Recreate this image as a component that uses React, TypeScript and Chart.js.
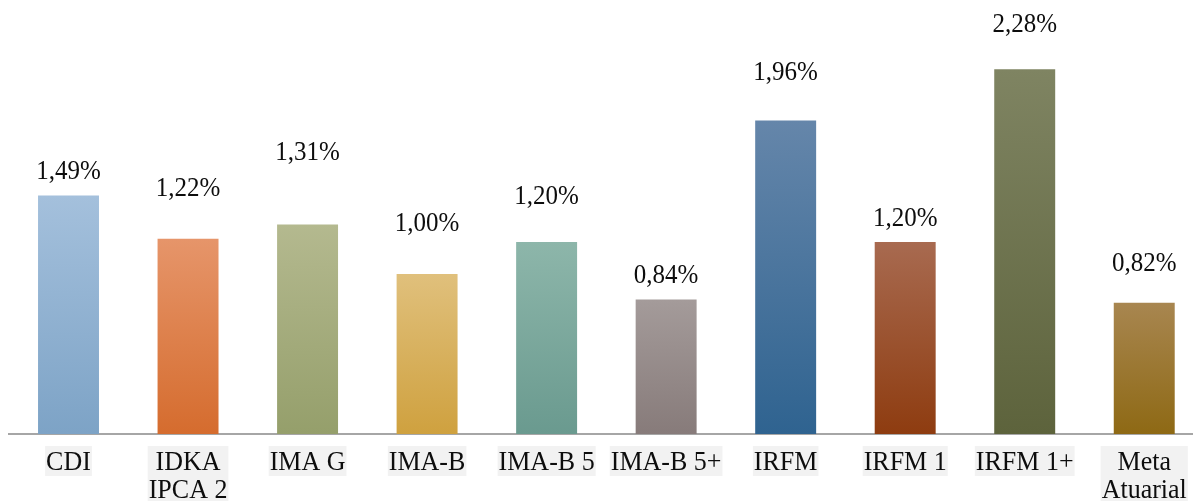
import React, { useEffect, useRef } from "react";
import { Chart, registerables } from "chart.js";

Chart.register(...registerables);

const categories: (string | string[])[] = [
  "CDI",
  ["IDKA", "IPCA 2"],
  "IMA G",
  "IMA-B",
  "IMA-B 5",
  "IMA-B 5+",
  "IRFM",
  "IRFM 1",
  "IRFM 1+",
  ["Meta", "Atuarial"],
];

const returns: number[] = [1.49, 1.22, 1.31, 1.0, 1.2, 0.84, 1.96, 1.2, 2.28, 0.82];

// styling: gradient top / bottom colours for each bar
const topColors: string[] = [
  "#a4c0dc", "#e6956a", "#b4b98f", "#e0c07c", "#8db6aa",
  "#a49b9a", "#6586aa", "#a86a50", "#7f8462", "#a88650",
];
const bottomColors: string[] = [
  "#7da3c6", "#d56c2e", "#959f6b", "#cfa13f", "#6a9a8f",
  "#877b7a", "#2f6390", "#8e3c10", "#5d633c", "#8e6914",
];

// layout: distance (px) from bar top to value label baseline
const labelLift: number[] = [17, 43, 64, 43, 38, 17, 40, 16, 37, 32];

const FONT = "'Liberation Serif', 'Times New Roman', serif";
const TEXT = "#0d0d0d";

const valueLabels = {
  id: "valueLabels",
  afterDatasetsDraw(chart: any) {
    const ctx = chart.ctx;
    const meta = chart.getDatasetMeta(0);
    ctx.save();
    ctx.font = `25px ${FONT}`;
    ctx.fillStyle = TEXT;
    ctx.textAlign = "center";
    ctx.textBaseline = "alphabetic";
    meta.data.forEach((bar: any, i: number) => {
      const txt = returns[i].toFixed(2).replace(".", ",") + "%";
      ctx.save();
      ctx.translate(bar.x, bar.y - labelLift[i]);
      ctx.scale(1, 1.08);
      ctx.fillText(txt, 0, 0);
      ctx.restore();
    });
    ctx.restore();
  },
};

const categoryLabels = {
  id: "categoryLabels",
  afterDraw(chart: any) {
    const ctx = chart.ctx;
    const xs = chart.scales.x;
    const base = chart.chartArea.bottom + 36;
    const lh = 28;
    ctx.save();
    ctx.font = `26px ${FONT}`;
    ctx.textAlign = "center";
    ctx.textBaseline = "alphabetic";
    categories.forEach((c, i) => {
      const lines = Array.isArray(c) ? c : [c];
      const x = xs.getPixelForValue(i);
      const w = Math.max(...lines.map((l) => ctx.measureText(l).width));
      ctx.fillStyle = "#f2f2f2";
      ctx.fillRect(x - w / 2 - 1, base - 24, w + 2, lines.length * lh + 2);
      ctx.fillStyle = TEXT;
      lines.forEach((l, k) => {
        ctx.save();
        ctx.translate(x, base + k * lh);
        ctx.scale(1, 1.04);
        ctx.fillText(l, 0, 0);
        ctx.restore();
      });
    });
    ctx.restore();
  },
};

export default function App() {
  const ref = useRef<HTMLCanvasElement>(null);

  useEffect(() => {
    document.body.style.margin = "0";
    document.body.style.overflow = "hidden";
    const canvas = ref.current!;
    const chart = new Chart(canvas, {
      type: "bar",
      data: {
        labels: categories,
        datasets: [
          {
            data: returns,
            backgroundColor: (c: any) => {
              const ch = c.chart;
              const i = c.dataIndex;
              const ys = ch.scales?.y;
              if (!ch.chartArea || !ys || i === undefined) return bottomColors[i ?? 0];
              const yTop = ys.getPixelForValue(returns[i]);
              const yBot = ys.getPixelForValue(0);
              const g = ch.ctx.createLinearGradient(0, yTop, 0, yBot);
              g.addColorStop(0, topColors[i]);
              g.addColorStop(1, bottomColors[i]);
              return g;
            },
            borderWidth: 0,
            categoryPercentage: 0.51,
            barPercentage: 1,
          },
        ],
      },
      options: {
        animation: false,
        responsive: false,
        devicePixelRatio: 1,
        layout: { padding: { left: 8.75, right: 0, top: 34, bottom: 0 } },
        plugins: {
          legend: { display: false },
          tooltip: { enabled: false },
        },
        scales: {
          x: {
            grid: { display: false, drawTicks: false },
            border: { display: true, color: "#a6a6a6", width: 2 },
            ticks: { display: false },
            afterFit: (s: any) => {
              s.height = 67;
            },
          },
          y: {
            display: false,
            min: 0,
            max: 2.5,
          },
        },
      },
      plugins: [valueLabels, categoryLabels],
    } as any);
    return () => chart.destroy();
  }, []);

  return (
    <div
      style={{
        position: "fixed",
        left: 0,
        top: 0,
        width: 1193,
        height: 501,
        overflow: "hidden",
        background: "#fff",
      }}
    >
      <canvas ref={ref} width={1204} height={501} style={{ width: 1204, height: 501, display: "block" }} />
    </div>
  );
}
